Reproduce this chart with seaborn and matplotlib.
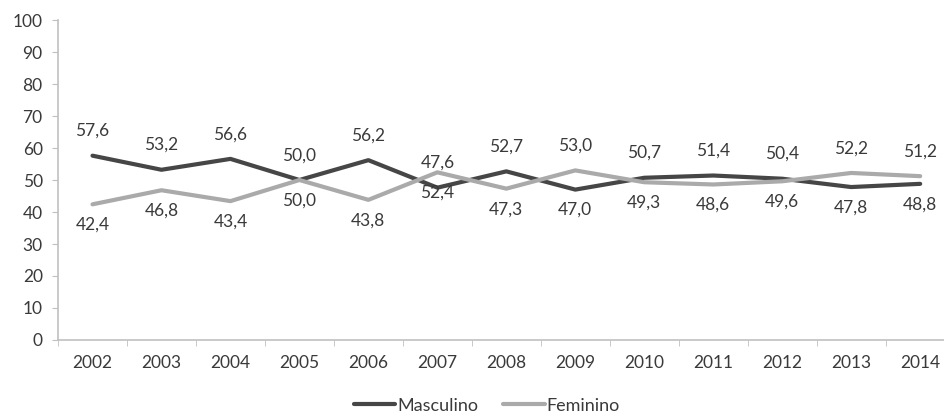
import numpy as np
import pandas as pd
import matplotlib.pyplot as plt
import seaborn as sns

anos = [2002, 2003, 2004, 2005, 2006, 2007, 2008, 2009, 2010, 2011, 2012, 2013, 2014]
masculino = [57.6, 53.2, 56.6, 50.0, 56.2, 47.6, 52.7, 47.0, 50.7, 51.4, 50.4, 47.8, 48.8]
feminino = [42.4, 46.8, 43.4, 50.0, 43.8, 52.4, 47.3, 53.0, 49.3, 48.6, 49.6, 52.2, 51.2]

# where the masculine label sits (the feminine one goes on the other side)
masc_acima = [True, True, True, True, True, True, True, False, True, True, True, False, False]

df = pd.DataFrame({'Ano': anos * 2,
                   'Valor': masculino + feminino,
                   'Sexo': ['Masculino'] * len(anos) + ['Feminino'] * len(anos)})

sns.set_style('white')
plt.rcParams['font.family'] = ['Lato', 'DejaVu Sans']
txt = '#3a3a3a'
fs = 12.5

fig = plt.figure(figsize=(9.45, 4.16), dpi=100)
ax = fig.add_axes([0.0614, 0.1827, 0.9386, 0.7692])

sns.lineplot(data=df, x='Ano', y='Valor', hue='Sexo',
             palette={'Masculino': '#464646', 'Feminino': '#aaaaaa'},
             linewidth=3, ax=ax, legend=False)

for a, m, f, up in zip(anos, masculino, feminino, masc_acima):
    om, of = (12, -9) if up else (-9, 12)
    ax.annotate(f'{m:.1f}'.replace('.', ','), (a, m), xytext=(0, om), textcoords='offset points',
                ha='center', va='bottom' if om > 0 else 'top', fontsize=fs, color=txt)
    ax.annotate(f'{f:.1f}'.replace('.', ','), (a, f), xytext=(0, of), textcoords='offset points',
                ha='center', va='bottom' if of > 0 else 'top', fontsize=fs, color=txt)

ax.set_xlim(2001.5, 2014.36)
ax.set_ylim(0, 100)
ax.set_yticks(range(0, 101, 10))
ax.set_xticks(anos)
ax.set_xticklabels([str(a) for a in anos])
ax.set_xticks(np.arange(2001.5, 2014.0, 1), minor=True)
ax.set_xlabel('')
ax.set_ylabel('')

for s in ['top', 'right']:
    ax.spines[s].set_visible(False)
for s in ['left', 'bottom']:
    ax.spines[s].set_color('#c0c0c0')
    ax.spines[s].set_linewidth(1.2)

ax.tick_params(axis='x', which='major', length=0, pad=11, labelsize=fs, colors=txt)
ax.tick_params(axis='x', which='minor', length=4, color='#c0c0c0', direction='out', bottom=True)
ax.tick_params(axis='y', length=4, color='#c0c0c0', direction='out', left=True, pad=7,
               labelsize=fs, labelcolor=txt)

handles = [plt.Line2D([], [], color='#464646', lw=3),
           plt.Line2D([], [], color='#aaaaaa', lw=3)]
fig.legend(handles, ['Masculino', 'Feminino'], loc='center', bbox_to_anchor=(0.515, 0.025),
           ncol=2, frameon=False, handlelength=2.3, handletextpad=0.1, columnspacing=1.4,
           fontsize=13, labelcolor=txt)

fig.savefig('out.png', dpi=100)
